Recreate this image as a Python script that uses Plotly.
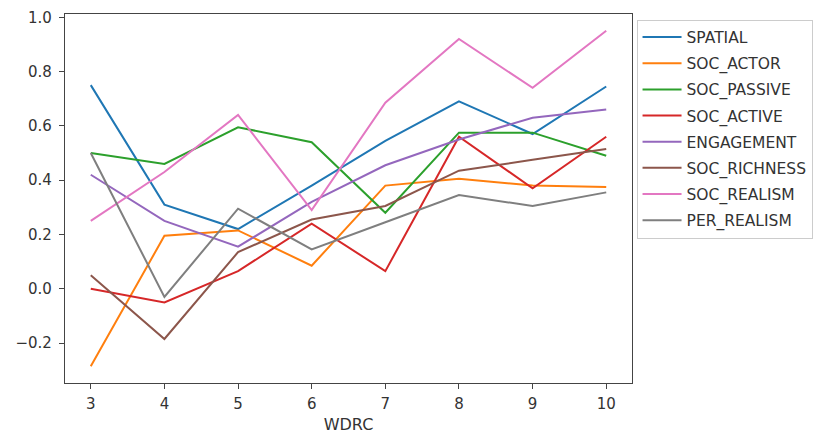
import plotly.graph_objects as go

wdrc = [3, 4, 5, 6, 7, 8, 9, 10]

spatial = [0.75, 0.31, 0.22, 0.38, 0.545, 0.69, 0.57, 0.745]
soc_actor = [-0.285, 0.195, 0.215, 0.085, 0.38, 0.405, 0.38, 0.375]
soc_passive = [0.50, 0.46, 0.595, 0.54, 0.28, 0.575, 0.575, 0.49]
soc_active = [0.0, -0.05, 0.065, 0.24, 0.065, 0.56, 0.37, 0.56]
engagement = [0.42, 0.25, 0.155, 0.32, 0.455, 0.55, 0.63, 0.66]
soc_richness = [0.05, -0.185, 0.135, 0.255, 0.305, 0.435, 0.475, 0.515]
soc_realism = [0.25, 0.43, 0.64, 0.29, 0.685, 0.92, 0.74, 0.95]
per_realism = [0.50, -0.03, 0.295, 0.145, 0.245, 0.345, 0.305, 0.355]

series_names = ["SPATIAL", "SOC_ACTOR", "SOC_PASSIVE", "SOC_ACTIVE",
                "ENGAGEMENT", "SOC_RICHNESS", "SOC_REALISM", "PER_REALISM"]
series_values = [spatial, soc_actor, soc_passive, soc_active,
                 engagement, soc_richness, soc_realism, per_realism]
colors = ["#1f77b4", "#ff7f0e", "#2ca02c", "#d62728",
          "#9467bd", "#8c564b", "#e377c2", "#7f7f7f"]

fig = go.Figure()
for name, vals, c in zip(series_names, series_values, colors):
    fig.add_trace(go.Scatter(x=wdrc, y=vals, mode="lines", name=name,
                             legendgroup=name,
                             line=dict(color=c, width=2)))

tick_font = dict(family="DejaVu Sans", size=15, color="#333333")
title_font = dict(family="DejaVu Sans", size=16, color="#333333")
axis_common = dict(showgrid=False, zeroline=False, showline=True, mirror=True,
                   linecolor="#444444", linewidth=1.3, ticks="outside",
                   ticklen=5, tickcolor="#444444", tickfont=tick_font,
                   automargin=False)

fig.update_layout(
    width=827, height=434,
    margin=dict(l=65, r=195, t=14, b=51),
    paper_bgcolor="white", plot_bgcolor="white",
    font=title_font,
    showlegend=True,
    legend=dict(x=1.008, y=0.985, xanchor="left", yanchor="top",
                bordercolor="#cccccc", borderwidth=1, bgcolor="white",
                font=dict(family="DejaVu Sans", size=15.5, color="#333333"),
                tracegroupgap=3, itemwidth=39),
    xaxis=dict(range=[2.65, 10.35], tickvals=wdrc, ticklabelstandoff=2,
               title=dict(text="WDRC", font=title_font, standoff=6), **axis_common),
    yaxis=dict(range=[-0.347, 1.012], tickvals=[-0.2, 0.0, 0.2, 0.4, 0.6, 0.8, 1.0],
               tickformat=".1f", ticklabelstandoff=4, **axis_common),
)

fig.write_html("out.html")
